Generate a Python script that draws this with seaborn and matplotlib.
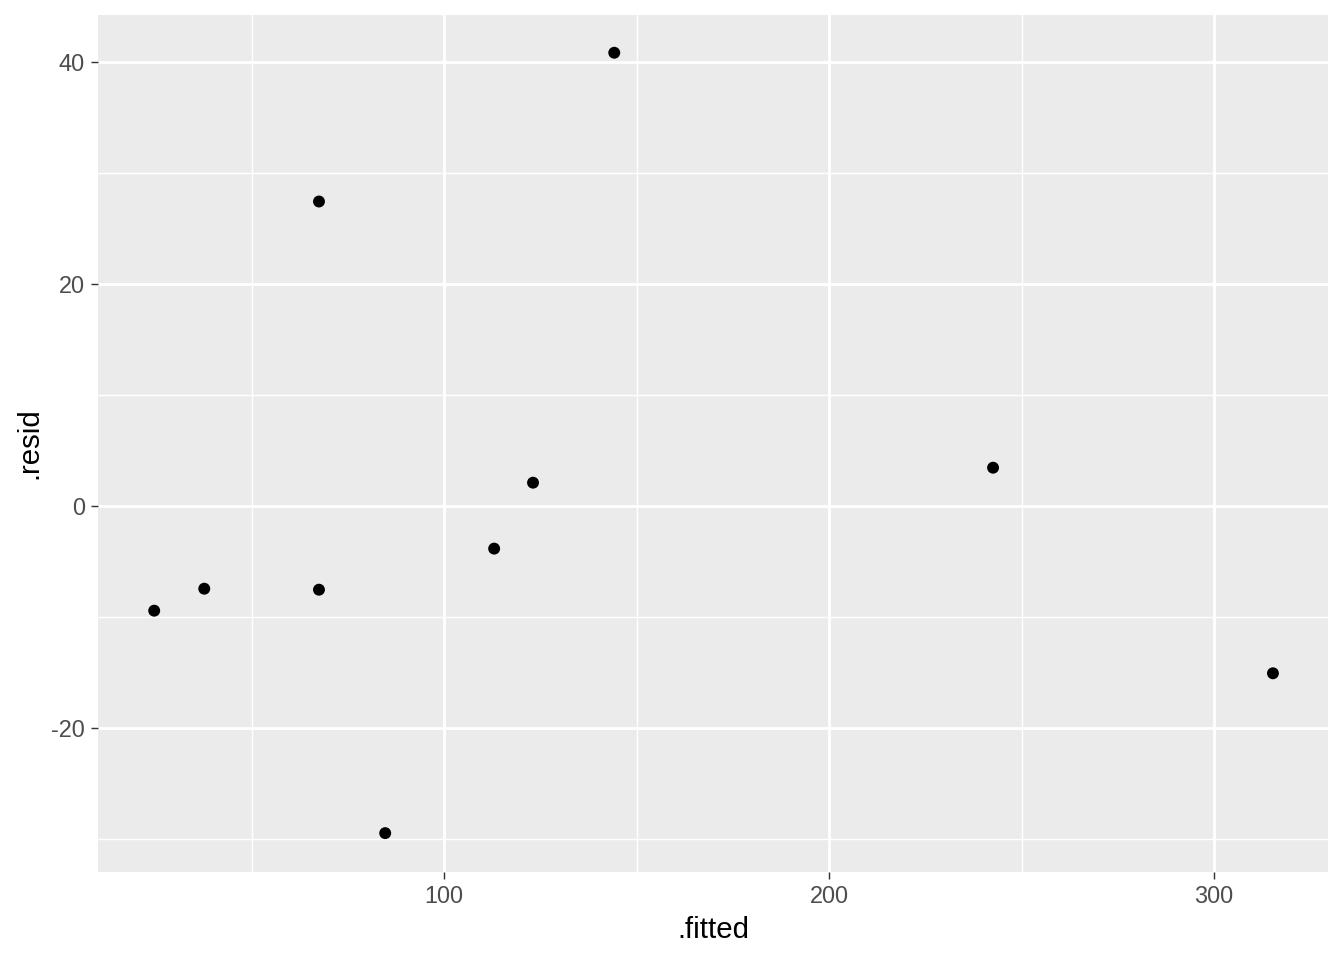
import matplotlib
matplotlib.use("Agg")
import matplotlib.pyplot as plt
import seaborn as sns
import pandas as pd
from matplotlib.ticker import MultipleLocator

fitted = [24.7, 37.7, 67.5, 67.5, 84.7, 113.0, 123.1, 144.2, 242.6, 315.3]
resid = [-9.46, -7.48, 27.4, -7.57, -29.5, -3.87, 2.07, 40.8, 3.42, -15.1]
x_ticks = [100, 200, 300]
y_ticks = [-20, 0, 20, 40]

df = pd.DataFrame({".fitted": fitted, ".resid": resid})

sns.set_style("darkgrid", {"axes.facecolor": "#EBEBEB", "grid.color": "white"})
plt.rcParams["font.family"] = ["Liberation Sans", "DejaVu Sans"]
plt.rcParams["axes.unicode_minus"] = False

fig = plt.figure(figsize=(7, 5), dpi=192)
ax = fig.add_axes([98/1344, 1 - 872/960, (1328 - 98)/1344, (872 - 15)/960])
sns.scatterplot(data=df, x=".fitted", y=".resid", ax=ax, color="black",
                s=20, edgecolor="none", zorder=3)

ax.set_xlim(10.1, 329.6)
ax.set_ylim(-33.0, 44.2)
ax.set_xticks(x_ticks)
ax.set_yticks(y_ticks)
ax.xaxis.set_minor_locator(MultipleLocator(50))
ax.yaxis.set_minor_locator(MultipleLocator(10))
ax.grid(which="major", color="white", linewidth=1.07)
ax.grid(which="minor", color="white", linewidth=0.53)
for s in ax.spines.values():
    s.set_visible(False)
ax.tick_params(which="major", length=2.75, width=0.53, color="#333333",
               labelsize=8.8, labelcolor="#4D4D4D", pad=2.2,
               bottom=True, left=True)
ax.tick_params(which="minor", length=0)
ax.set_xlabel(".fitted", fontsize=11, color="black", labelpad=2.75)
ax.set_ylabel(".resid", fontsize=11, color="black", labelpad=2.75)

fig.savefig("out.png", dpi=192)
